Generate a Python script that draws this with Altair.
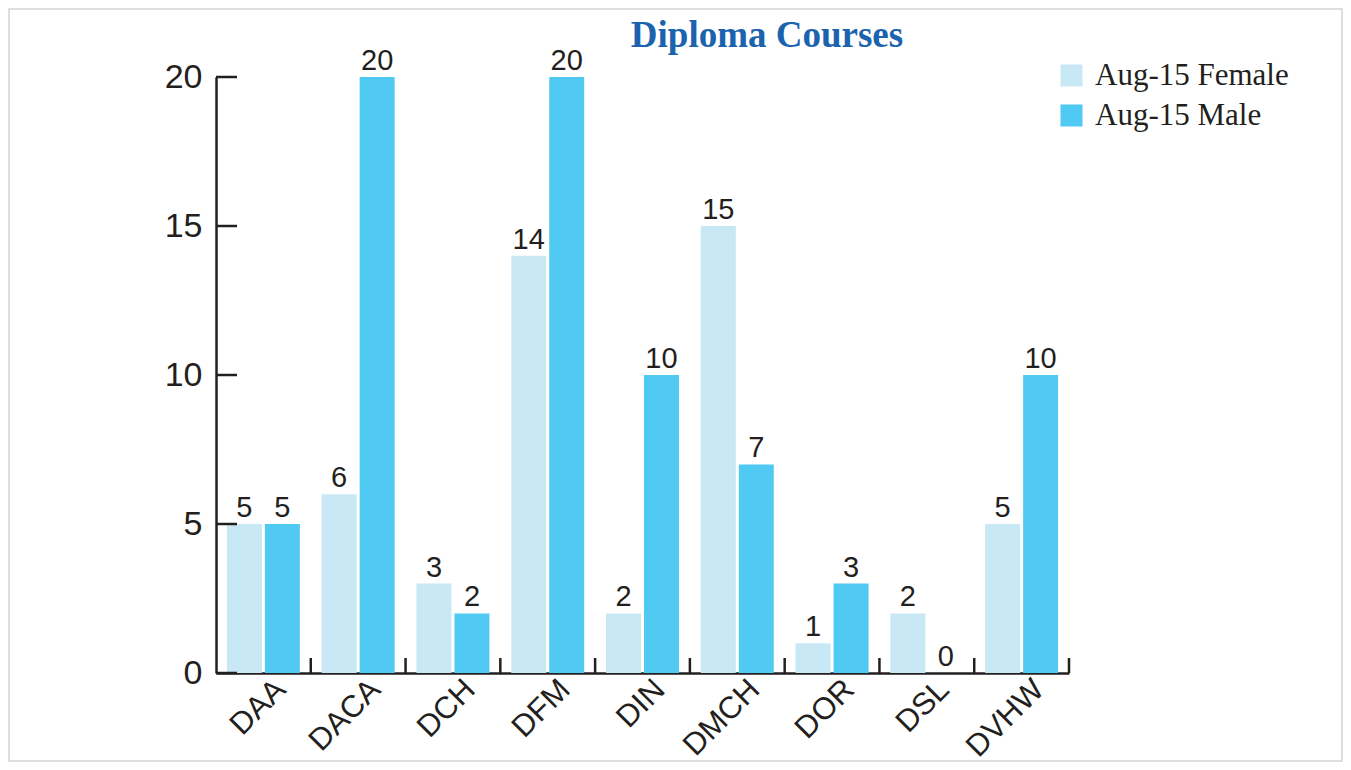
import altair as alt
import pandas as pd

courses = ["DAA", "DACA", "DCH", "DFM", "DIN", "DMCH", "DOR", "DSL", "DVHW"]
female = [5, 6, 3, 14, 2, 15, 1, 2, 5]
male = [5, 20, 2, 20, 10, 7, 3, 0, 10]
series = ["Aug-15 Female", "Aug-15 Male"]
colors = ["#c7e8f4", "#50c9f3"]
y_ticks = [0, 5, 10, 15, 20]
title_text = "Diploma Courses"

rows = []
for c, f, m in zip(courses, female, male):
    rows.append({"course": c, "series": series[0], "value": f})
    rows.append({"course": c, "series": series[1], "value": m})
df = pd.DataFrame(rows)

W, H = 853, 596
PL, PT, PR, PB = 208, 69, 274, 89
INK = "#231f20"
SANS = "Liberation Sans"
SERIF = "Liberation Serif"

x = alt.X("course:N", sort=courses, title=None,
          scale=alt.Scale(paddingInner=0, paddingOuter=0),
          axis=alt.Axis(ticks=False, labelAngle=-45, labelFontSize=31, labelFont=SANS,
                        labelColor=INK, domainColor=INK, domainWidth=2.5,
                        labelPadding=1, labelOffset=7, labelLimit=300))
y = alt.Y("value:Q", title=None,
          scale=alt.Scale(domain=[0, 20], nice=False),
          axis=alt.Axis(values=y_ticks, ticks=False, grid=False, labelFontSize=34,
                        labelFont=SANS, labelColor=INK, domainColor=INK,
                        domainWidth=2.5, labelPadding=14))
xo = alt.XOffset("series:N", sort=series,
                 scale=alt.Scale(paddingInner=0.079, paddingOuter=0.287))

base = alt.Chart(df)
bars = base.mark_bar().encode(
    x=x, xOffset=xo, y=y,
    color=alt.Color("series:N", sort=series,
                    scale=alt.Scale(domain=series, range=colors),
                    legend=alt.Legend(orient="none", legendX=840, legendY=-17,
                                      title=None, symbolType="square", symbolSize=484,
                                      symbolStrokeWidth=0, labelFont=SERIF,
                                      labelFontSize=31, labelColor=INK, labelLimit=400,
                                      labelOffset=8, rowPadding=8)),
)
labels = base.mark_text(baseline="bottom", dy=-1, fontSize=29, font=SANS, color=INK).encode(
    x=alt.X("course:N", sort=courses), xOffset=xo, y="value:Q", text="value:Q"
)
ytick_df = pd.DataFrame({"v": y_ticks})
yticks = alt.Chart(ytick_df).mark_rule(color=INK, strokeWidth=2.5).encode(
    y="v:Q", x=alt.value(0), x2=alt.value(21)
)
xtick_df = pd.DataFrame({"course": courses})
xticks = alt.Chart(xtick_df).mark_rule(color=INK, strokeWidth=2.5).encode(
    x=alt.X("course:N", sort=courses, bandPosition=1),
    y=alt.value(H - 15), y2=alt.value(H)
)
frame = alt.Chart(alt.Data(values=[{}])).mark_rect(
    fill=None, stroke="#d4d4d4", strokeWidth=1.5
).encode(
    x=alt.value(-PL + 1), x2=alt.value(W + PR - 1),
    y=alt.value(-PT + 1), y2=alt.value(H + PB - 1)
)
title = alt.Chart(alt.Data(values=[{"t": title_text}])).mark_text(
    font=SERIF, fontWeight="bold", fontSize=37, color="#1b63ae",
    align="center", baseline="alphabetic"
).encode(x=alt.value(551), y=alt.value(-30), text="t:N")

chart = alt.layer(frame, bars, labels, yticks, xticks, title).properties(
    width=W, height=H,
    autosize=alt.AutoSizeParams(type="none"),
    padding={"left": PL, "top": PT, "right": PR, "bottom": PB},
).configure(background="white").configure_view(stroke=None)

chart.save("out.html", embed_options={"renderer": "svg", "actions": False})
